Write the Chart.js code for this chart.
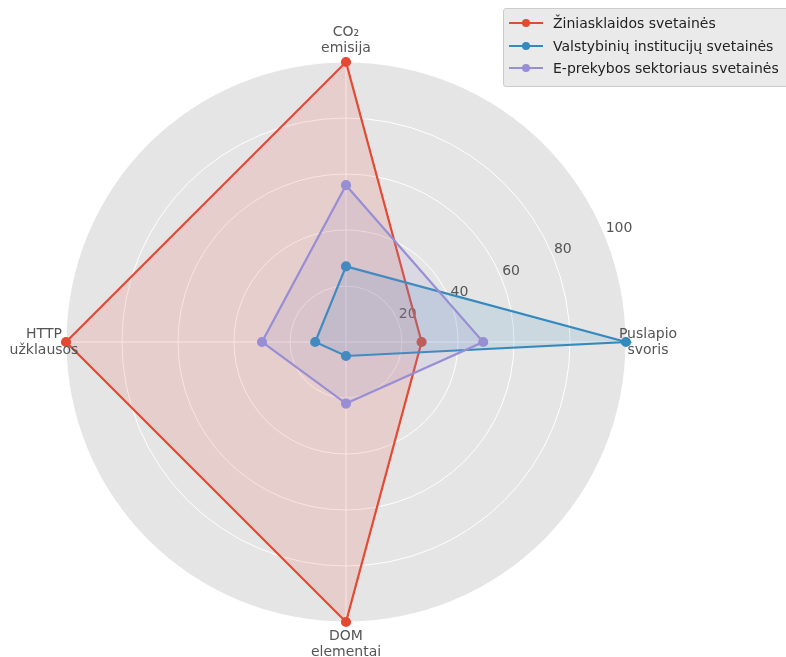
<!DOCTYPE html>
<html>
<head>
<meta charset="utf-8">
<script src="https://cdn.jsdelivr.net/npm/chart.js@4/dist/chart.umd.min.js"></script>
<style>
body { margin: 0; background: #fff; font-family: "DejaVu Sans", sans-serif; }
#wrap { position: relative; width: 786px; height: 657px; overflow: hidden; }
#legenda { position: absolute; left: 503px; top: 8px; width: 300px; height: 79px; background: rgba(229,229,229,0.8); border: 1px solid #cccccc; border-radius: 3px; box-sizing: border-box; }
.eil { position: absolute; left: 4px; height: 20px; font-size: 14px; line-height: 20px; color: #222; white-space: nowrap; }
.eil svg { position: absolute; left: 0; top: 0; }
.eil span { position: absolute; left: 45px; top: 0; }
</style>
</head>
<body>
<div id="wrap">
  <canvas id="grafikas" width="786" height="657"></canvas>
  <div id="legenda"></div>
</div>
<script>
// ašys (pagal laikrodžio rodyklę nuo viršaus)
const asys = [['CO₂', 'emisija'], ['Puslapio', 'svoris'], ['DOM', 'elementai'], ['HTTP', 'užklausos']];
const serijuPavadinimai = ['Žiniasklaidos svetainės', 'Valstybinių institucijų svetainės', 'E-prekybos sektoriaus svetainės'];
const ziniasklaida = [100, 27, 100, 100];
const valstybines = [27, 100, 5, 11];
const eprekyba = [56, 49, 22, 30];
const skaleZymes = [20, 40, 60, 80, 100];

const spalvos = ['#E24A33', '#348ABD', '#988ED5'];
const uzpildai = ['rgba(226,74,51,0.15)', 'rgba(52,138,189,0.15)', 'rgba(152,142,213,0.15)'];

// skalės žymės 22.5° kampu, kaip matplotlib
const zymiuPlugin = {
    id: 'zymes',
    beforeDatasetsDraw(chart) {
        const r = chart.scales.r;
        const ctx = chart.ctx;
        const kampas = 22.5 * Math.PI / 180;
        ctx.save();
        ctx.font = '14px "DejaVu Sans"';
        ctx.fillStyle = '#555555';
        ctx.textAlign = 'left';
        ctx.textBaseline = 'alphabetic';
        skaleZymes.forEach(v => {
            const d = r.getDistanceFromCenterForValue(v);
            ctx.fillText(String(v), r.xCenter + d * Math.cos(kampas) + 1, r.yCenter - d * Math.sin(kampas) - 3);
        });
        ctx.restore();
    },
    afterDraw(chart) {
        const r = chart.scales.r;
        const ctx = chart.ctx;
        ctx.save();
        ctx.font = '14px "DejaVu Sans"';
        ctx.fillStyle = '#555555';
        ctx.textAlign = 'center';
        ctx.textBaseline = 'middle';
        asys.forEach((eil, i) => {
            const p = r.getPointPosition(i, r.drawingArea + 22);
            const aukstis = 16;
            eil.forEach((t, j) => {
                ctx.fillText(t, p.x, p.y + (j - (eil.length - 1) / 2) * aukstis);
            });
        });
        ctx.restore();
    }
};

const duomenys = [ziniasklaida, valstybines, eprekyba];

const grafikas = new Chart(document.getElementById('grafikas'), {
    type: 'radar',
    data: {
        labels: asys,
        datasets: duomenys.map((d, i) => ({
            label: serijuPavadinimai[i],
            data: d,
            borderColor: spalvos[i],
            backgroundColor: uzpildai[i],
            pointBackgroundColor: spalvos[i],
            pointBorderColor: spalvos[i],
            pointRadius: 4,
            borderWidth: 2.2,
            fill: true,
            clip: false,
            order: 2 - i
        }))
    },
    options: {
        responsive: false,
        animation: false,
        layout: { padding: { left: 66, top: 62, right: 160, bottom: 35 } },
        plugins: { legend: { display: false }, tooltip: { enabled: false } },
        scales: {
            r: {
                min: 0,
                max: 100,
                backgroundColor: '#E5E5E5',
                ticks: { stepSize: 20, display: false },
                grid: { circular: true, color: '#ffffff', lineWidth: 1 },
                angleLines: { color: '#ffffff', lineWidth: 1 },
                pointLabels: { display: false }
            }
        }
    },
    plugins: [zymiuPlugin]
});

// legenda
const legenda = document.getElementById('legenda');
const virsai = [4, 27, 49];
serijuPavadinimai.forEach((p, i) => {
    const eil = document.createElement('div');
    eil.className = 'eil';
    eil.style.top = virsai[i] + 'px';
    eil.innerHTML = '<svg width="36" height="20"><line x1="1" y1="10" x2="35" y2="10" stroke="' + spalvos[i] + '" stroke-width="2.2"/>' +
        '<circle cx="18" cy="10" r="4" fill="' + spalvos[i] + '"/></svg><span>' + p + '</span>';
    legenda.appendChild(eil);
});
</script>
</body>
</html>
